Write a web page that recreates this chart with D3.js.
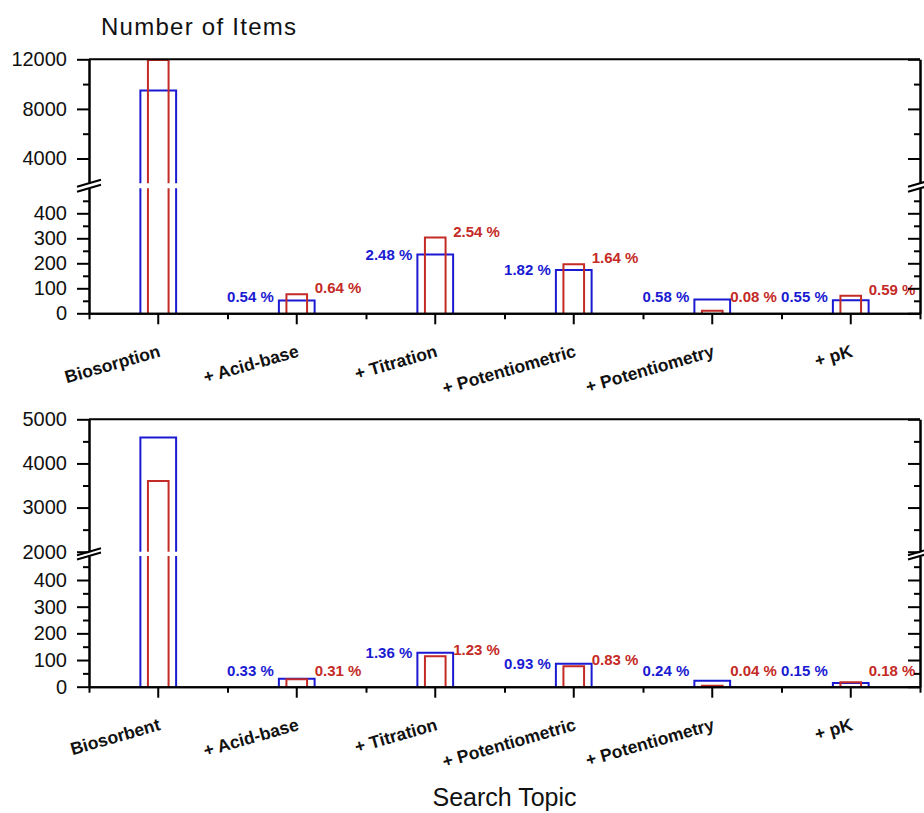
<!DOCTYPE html>
<html>
<head>
<meta charset="utf-8">
<script src="https://cdn.jsdelivr.net/npm/d3@7"></script>
<style>
  body { margin: 0; background: #fff; }
  svg { font-family: "Liberation Sans", Arial, sans-serif; }
  .axis path, .axis line { stroke: #000; stroke-width: 2; }
  .axis text { font-size: 20px; fill: #111; }
  .xaxis text { font-size: 17.5px; font-weight: bold; }
</style>
</head>
<body>
<div class="chart"></div>
<script>
// data
// ================================
var topCategories = ["Biosorption", "+ Acid-base", "+ Titration", "+ Potentiometric", "+ Potentiometry", "+ pK"];
var bottomCategories = ["Biosorbent", "+ Acid-base", "+ Titration", "+ Potentiometric", "+ Potentiometry", "+ pK"];

var topBlue = [9480, 51, 235, 173, 55, 52];
var topRed = [11950, 76, 303, 196, 10, 70];
var topBlueLabels = ["", "0.54 %", "2.48 %", "1.82 %", "0.58 %", "0.55 %"];
var topRedLabels = ["", "0.64 %", "2.54 %", "1.64 %", "0.08 %", "0.59 %"];

var bottomBlue = [4590, 30, 127, 86, 22, 14];
var bottomRed = [3600, 28, 114, 77, 4, 17];
var bottomBlueLabels = ["", "0.33 %", "1.36 %", "0.93 %", "0.24 %", "0.15 %"];
var bottomRedLabels = ["", "0.31 %", "1.23 %", "0.83 %", "0.04 %", "0.18 %"];

var lowerTicks = [0, 100, 200, 300, 400];
var lowerMinorTicks = [50, 150, 250, 350, 450];
var topUpperTicks = [4000, 8000, 12000];
var topUpperMinorTicks = [6000, 10000];
var bottomUpperTicks = [2000, 3000, 4000, 5000];
var bottomUpperMinorTicks = [2500, 3500, 4500];

// set up the chart
// ================================
var svgWidth = 924;
var svgHeight = 813;
var left = 89, right = 920;
var blueColor = "#1a1ad2";
var redColor = "#c42a26";

var svg = d3.select(".chart")
  .append("svg")
  .attr("width", svgWidth)
  .attr("height", svgHeight);

var x = d3.scaleBand()
  .domain(d3.range(6))
  .range([left, right])
  .padding(0);

var xEdges = d3.scaleLinear().domain([0, 6]).range([left, right]);

function drawPanel(p) {
  var g = svg.append("g");

  var yLow = d3.scaleLinear().domain(p.lowDomain).range(p.lowRange);
  var yUp = d3.scaleLinear().domain(p.upDomain).range(p.upRange);
  var cut = p.lowDomain[1];

  // bars, split at the axis break
  function barPath(v, width) {
    var cx = x(v.i) + x.bandwidth() / 2;
    var x0 = cx - width / 2, x1 = cx + width / 2;
    if (v.value <= cut) {
      var yt = yLow(v.value);
      return "M" + x0 + "," + p.axisY + "V" + yt + "H" + x1 + "V" + p.axisY;
    }
    var lowTop = yLow(cut);
    var upBottom = yUp(p.upDomain[0]);
    var yt2 = yUp(v.value);
    return "M" + x0 + "," + p.axisY + "V" + lowTop +
      "M" + x1 + "," + p.axisY + "V" + lowTop +
      "M" + x0 + "," + upBottom + "V" + yt2 + "H" + x1 + "V" + upBottom;
  }

  [[p.blue, blueColor, 0.258], [p.red, redColor, 0.149]].forEach(function (s) {
    g.selectAll(null)
      .data(s[0].map(function (d, i) { return { i: i, value: d }; }))
      .enter()
      .append("path")
      .attr("d", function (d) { return barPath(d, x.bandwidth() * s[2]); })
      .attr("fill", "none")
      .attr("stroke", s[1])
      .attr("stroke-width", 2);
  });

  // percent labels
  function labelY(v, shift) {
    return Math.min(yLow(Math.min(v, cut)) - shift, p.axisY - 16);
  }
  g.selectAll(null)
    .data(p.blueLabels)
    .enter()
    .append("text")
    .text(function (d) { return d; })
    .attr("x", function (d, i) { return x(i) + x.bandwidth() / 2 - 23; })
    .attr("y", function (d, i) { return labelY(p.blue[i], 0) + 5; })
    .attr("text-anchor", "end")
    .attr("font-size", 15)
    .attr("font-weight", "bold")
    .attr("fill", blueColor);

  g.selectAll(null)
    .data(p.redLabels)
    .enter()
    .append("text")
    .text(function (d) { return d; })
    .attr("x", function (d, i) { return x(i) + x.bandwidth() / 2 + 18; })
    .attr("y", function (d, i) { return labelY(p.red[i], 6) + 5; })
    .attr("text-anchor", "start")
    .attr("font-size", 15)
    .attr("font-weight", "bold")
    .attr("fill", redColor);

  // left axis (two segments)
  [[yLow, lowerTicks, lowerMinorTicks], [yUp, p.upTicks, p.upMinor]].forEach(function (s) {
    g.append("g")
      .attr("class", "axis")
      .attr("transform", "translate(" + left + ",0)")
      .call(d3.axisLeft(s[0]).tickValues(s[1]).tickSize(12).tickSizeOuter(0).tickPadding(10).tickFormat(d3.format("d")));
    g.append("g")
      .attr("class", "axis")
      .attr("transform", "translate(" + left + ",0)")
      .call(d3.axisLeft(s[0]).tickValues(s[2]).tickSize(6).tickSizeOuter(0).tickFormat(""));
    // right axis, ticks inward
    g.append("g")
      .attr("class", "axis")
      .attr("transform", "translate(" + right + ",0)")
      .call(d3.axisRight(s[0]).tickValues(s[1]).tickSize(-12).tickSizeOuter(0).tickFormat(""));
    g.append("g")
      .attr("class", "axis")
      .attr("transform", "translate(" + right + ",0)")
      .call(d3.axisRight(s[0]).tickValues(s[2]).tickSize(-6).tickSizeOuter(0).tickFormat(""));
  });

  // top frame line
  g.append("line")
    .attr("x1", left).attr("x2", right)
    .attr("y1", p.upRange[1]).attr("y2", p.upRange[1])
    .attr("stroke", "#000").attr("stroke-width", 2);

  // break marks
  [left, right].forEach(function (ax) {
    [yUp(p.upDomain[0]), yLow(cut)].forEach(function (by) {
      g.append("line")
        .attr("x1", ax - 12).attr("y1", by + 3.5)
        .attr("x2", ax + 12).attr("y2", by - 3.5)
        .attr("stroke", "#000").attr("stroke-width", 2);
    });
  });

  // bottom axis: minor ticks at band edges, major at centres with labels
  g.append("g")
    .attr("class", "axis")
    .attr("transform", "translate(0," + p.axisY + ")")
    .call(d3.axisBottom(xEdges).tickValues(d3.range(7)).tickSize(6).tickSizeOuter(0).tickFormat(""));

  var xAxis = g.append("g")
    .attr("class", "axis xaxis")
    .attr("transform", "translate(0," + p.axisY + ")")
    .call(d3.axisBottom(x).tickSize(11).tickSizeOuter(0).tickFormat(function (d) { return p.categories[d]; }));

  xAxis.selectAll("text")
    .attr("x", 0).attr("y", 0).attr("dy", 0)
    .attr("text-anchor", "end")
    .attr("transform", "translate(3,43) rotate(-16)");
}

drawPanel({
  categories: topCategories,
  blue: topBlue, red: topRed,
  blueLabels: topBlueLabels, redLabels: topRedLabels,
  axisY: 313.3,
  lowDomain: [0, 500], lowRange: [313.3, 188.3],
  upDomain: [2000, 12000], upRange: [183.3, 59.3],
  upTicks: topUpperTicks, upMinor: topUpperMinorTicks
});

drawPanel({
  categories: bottomCategories,
  blue: bottomBlue, red: bottomRed,
  blueLabels: bottomBlueLabels, redLabels: bottomRedLabels,
  axisY: 686.7,
  lowDomain: [0, 490], lowRange: [686.7, 556],
  upDomain: [2000, 5000], upRange: [551.7, 419.3],
  upTicks: bottomUpperTicks, upMinor: bottomUpperMinorTicks
});

// titles
svg.append("text")
  .attr("x", 101).attr("y", 35)
  .attr("font-size", 24)
  .attr("textLength", 195)
  .attr("fill", "#111")
  .text("Number of Items");

svg.append("text")
  .attr("x", (left + right) / 2).attr("y", 806)
  .attr("text-anchor", "middle")
  .attr("font-size", 25)
  .attr("fill", "#111")
  .text("Search Topic");
</script>
</body>
</html>
